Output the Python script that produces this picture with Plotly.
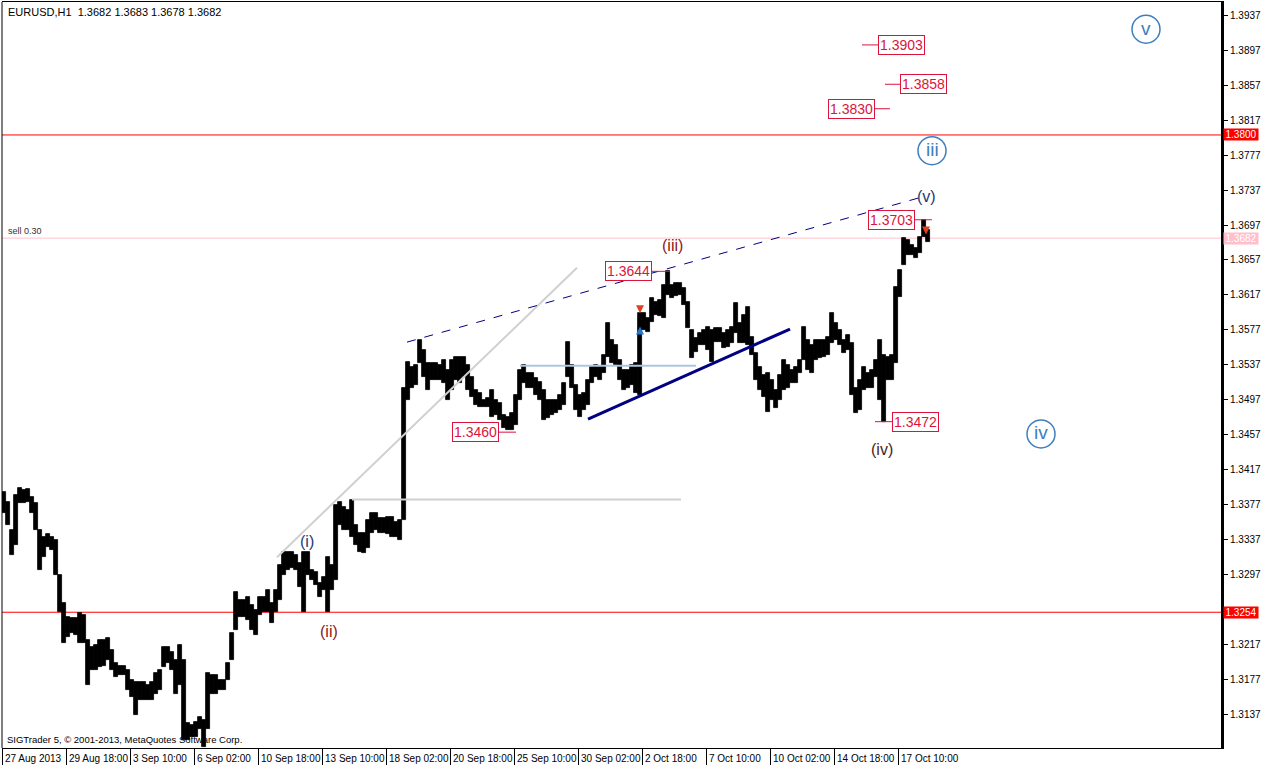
import plotly.graph_objects as go

# ---------------- data (EURUSD H1, aggregated per 4 hourly bars) ----------------
hi = [1.3391,1.3380,1.3348,1.3388,1.3396,1.3394,1.3395,1.3386,1.3379,1.3348,
      1.3340,1.3343,1.3340,1.3337,1.3297,1.3265,1.3249,1.3247,1.3247,1.3253,
      1.3251,1.3222,1.3214,1.3216,1.3222,1.3222,1.3224,1.3211,1.3196,1.3193,
      1.3193,1.3188,1.3177,1.3174,1.3174,1.3174,1.3171,1.3174,1.3184,1.3188,
      1.3214,1.3214,1.3208,1.3199,1.3216,1.3199,1.3127,1.3125,1.3128,1.3134,
      1.3131,1.3184,1.3182,1.3182,1.3177,1.3177,1.3196,1.3230,1.3277,1.3268,
      1.3268,1.3271,1.3262,1.3257,1.3271,1.3271,1.3280,1.3265,1.3280,1.3308,
      1.3323,1.3323,1.3323,1.3319,1.3310,1.3323,1.3323,1.3302,1.3300,1.3287,
      1.3294,1.3317,1.3308,1.3377,1.3380,1.3374,1.3371,1.3382,1.3354,1.3345,
      1.3345,1.3360,1.3368,1.3368,1.3362,1.3362,1.3363,1.3363,1.3357,1.3360,
      1.3511,1.3540,1.3535,1.3537,1.3565,1.3554,1.3539,1.3539,1.3539,1.3537,
      1.3543,1.3531,1.3543,1.3546,1.3546,1.3546,1.3537,1.3523,1.3508,1.3505,
      1.3497,1.3499,1.3508,1.3497,1.3493,1.3480,1.3477,1.3482,1.3502,1.3531,
      1.3537,1.3528,1.3528,1.3522,1.3517,1.3508,1.3497,1.3497,1.3497,1.3502,
      1.3516,1.3563,1.3537,1.3514,1.3502,1.3505,1.3520,1.3535,1.3537,1.3534,
      1.3548,1.3585,1.3565,1.3560,1.3543,1.3531,1.3531,1.3537,1.3539,1.3596,
      1.3596,1.3591,1.3614,1.3609,1.3611,1.3628,1.3644,1.3628,1.3631,1.3631,
      1.3625,1.3609,1.3577,1.3568,1.3573,1.3577,1.3580,1.3577,1.3579,1.3579,
      1.3573,1.3577,1.3580,1.3608,1.3585,1.3594,1.3603,1.3569,1.3551,1.3535,
      1.3525,1.3528,1.3520,1.3508,1.3525,1.3543,1.3537,1.3531,1.3534,1.3543,
      1.3580,1.3565,1.3560,1.3565,1.3565,1.3565,1.3569,1.3596,1.3585,1.3577,
      1.3565,1.3571,1.3562,1.3511,1.3520,1.3535,1.3528,1.3531,1.3543,1.3565,
      1.3548,1.3546,1.3548,1.3626,1.3645,1.3682,1.3680,1.3674,1.3671,1.3683,
      1.3703,1.3691]

lo = [1.3368,1.3354,1.3319,1.3331,1.3379,1.3379,1.3380,1.3368,1.3348,1.3302,
      1.3317,1.3329,1.3325,1.3297,1.3254,1.3219,1.3226,1.3230,1.3228,1.3219,
      1.3219,1.3171,1.3188,1.3188,1.3191,1.3193,1.3199,1.3188,1.3180,1.3182,
      1.3182,1.3165,1.3157,1.3136,1.3154,1.3154,1.3154,1.3154,1.3161,1.3165,
      1.3191,1.3196,1.3188,1.3161,1.3171,1.3108,1.3108,1.3111,1.3111,1.3120,
      1.3100,1.3120,1.3161,1.3161,1.3165,1.3165,1.3177,1.3199,1.3234,1.3249,
      1.3249,1.3245,1.3234,1.3228,1.3251,1.3254,1.3254,1.3242,1.3254,1.3268,
      1.3297,1.3302,1.3305,1.3302,1.3283,1.3254,1.3297,1.3291,1.3285,1.3271,
      1.3280,1.3254,1.3280,1.3291,1.3354,1.3348,1.3348,1.3340,1.3331,1.3323,
      1.3322,1.3328,1.3345,1.3348,1.3345,1.3345,1.3343,1.3340,1.3340,1.3337,
      1.3360,1.3497,1.3511,1.3514,1.3539,1.3523,1.3508,1.3520,1.3520,1.3520,
      1.3516,1.3497,1.3508,1.3520,1.3516,1.3523,1.3508,1.3500,1.3491,1.3489,
      1.3489,1.3489,1.3477,1.3480,1.3474,1.3465,1.3462,1.3462,1.3468,1.3497,
      1.3516,1.3511,1.3511,1.3502,1.3497,1.3474,1.3476,1.3480,1.3482,1.3485,
      1.3491,1.3523,1.3511,1.3485,1.3477,1.3485,1.3491,1.3516,1.3523,1.3520,
      1.3528,1.3546,1.3539,1.3537,1.3520,1.3508,1.3510,1.3514,1.3505,1.3502,
      1.3577,1.3575,1.3586,1.3594,1.3593,1.3591,1.3617,1.3614,1.3616,1.3617,
      1.3605,1.3579,1.3545,1.3552,1.3560,1.3560,1.3554,1.3540,1.3563,1.3563,
      1.3556,1.3557,1.3562,1.3573,1.3562,1.3562,1.3560,1.3548,1.3520,1.3508,
      1.3500,1.3483,1.3497,1.3488,1.3497,1.3508,1.3510,1.3516,1.3516,1.3528,
      1.3543,1.3531,1.3528,1.3543,1.3545,1.3546,1.3548,1.3562,1.3565,1.3560,
      1.3551,1.3554,1.3502,1.3482,1.3485,1.3508,1.3511,1.3511,1.3523,1.3497,
      1.3472,1.3520,1.3520,1.3539,1.3615,1.3651,1.3663,1.3663,1.3659,1.3665,
      1.3683,1.3678]

HOURS_PER_GROUP = 4
BARS_PER_LABEL = 64

x_labels = ["27 Aug 2013", "29 Aug 18:00", "3 Sep 10:00", "6 Sep 02:00", "10 Sep 18:00",
            "13 Sep 10:00", "18 Sep 02:00", "20 Sep 18:00", "25 Sep 10:00", "30 Sep 02:00",
            "2 Oct 18:00", "7 Oct 10:00", "10 Oct 02:00", "14 Oct 18:00", "17 Oct 10:00"]

y_ticks = [1.3937, 1.3897, 1.3857, 1.3817, 1.3777, 1.3737, 1.3697, 1.3657, 1.3617,
           1.3577, 1.3537, 1.3497, 1.3457, 1.3417, 1.3377, 1.3337, 1.3297, 1.3257,
           1.3217, 1.3177, 1.3137]
y_ticks_hidden = [1.3257]  # covered by the 1.3254 level tag

title_text = "EURUSD,H1  1.3682 1.3683 1.3678 1.3682"
copyright_text = "SIGTrader 5, © 2001-2013, MetaQuotes Software Corp."

# horizontal levels
level_red = [1.3800, 1.3254]
level_bid = 1.3682

# price markers: (value, line start bar, line end bar, box side)
marker_prices = [1.3903, 1.3858, 1.3830, 1.3703, 1.3644, 1.3460, 1.3472]
marker_line_x0 = [860, 883, 873, 913, 650, 497, 873]
marker_line_x1 = [876, 898, 888, 930, 668, 514, 890]
marker_box_side = ["right", "right", "left", "left", "left", "left", "right"]

# wave labels (bar index, price)
wave_text = ["(i)", "(ii)", "(iii)", "(iv)", "(v)"]
wave_x = [305, 327, 670, 880, 924]
wave_y = [1.3335, 1.3232, 1.3673, 1.3440, 1.3730]
wave_color = ["#1e3a78", "#8b1a1a", "#8b1a1a", "#4a1c1c", "#1e3a78"]

circle_text = ["v", "iii", "iv"]
circle_x = [1144, 930, 1039]
circle_y = [1.3921, 1.3782, 1.3458]

# drawn trend lines (bar index, price)
dash_line_x = [405, 920]
dash_line_y = [1.3563, 1.3729]
gray_diag_x = [275, 575]
gray_diag_y = [1.3317, 1.3648]
gray_hline_x = [350, 679]
gray_hline_y = [1.3383, 1.3383]
blue_hline_x = [518, 694]
blue_hline_y = [1.3536, 1.3536]
navy_line_x = [586, 788]
navy_line_y = [1.3475, 1.3578]

arrow_x = [638, 638, 924]
arrow_y = [1.3596, 1.3581, 1.3686]
arrow_sym = ["arrow-down", "arrow-up", "arrow-down"]
arrow_col = ["#e04020", "#1e78d0", "#e04020"]

Y_MIN, Y_MAX = 1.30987, 1.39521
X_MAX = 1219

FONT = "Liberation Sans"

# ---------------- figure ----------------
centers = [HOURS_PER_GROUP * g + HOURS_PER_GROUP / 2 for g in range(len(hi))]
fig = go.Figure()
fig.add_trace(go.Bar(x=centers, y=[h - l for h, l in zip(hi, lo)], base=lo,
                     width=HOURS_PER_GROUP, marker=dict(color="black", line=dict(width=0.8, color="black")),
                     hoverinfo="skip", showlegend=False))

def seg(xs, ys, color, width, dash="solid"):
    fig.add_trace(go.Scatter(x=xs, y=ys, mode="lines", line=dict(color=color, width=width, dash=dash),
                             hoverinfo="skip", showlegend=False))

seg(gray_diag_x, gray_diag_y, "#d0d0d0", 2)
seg(gray_hline_x, gray_hline_y, "#d0d0d0", 2)
seg(blue_hline_x, blue_hline_y, "#b0c4de", 2)
seg(navy_line_x, navy_line_y, "#000080", 3)
seg(dash_line_x, dash_line_y, "#000080", 1, "dash")

fig.add_trace(go.Scatter(x=arrow_x, y=arrow_y, mode="markers",
                         marker=dict(symbol=arrow_sym, color=arrow_col, size=8),
                         hoverinfo="skip", showlegend=False))

shapes = []
for lv in level_red:
    shapes.append(dict(type="line", xref="paper", yref="y", x0=0, x1=1, y0=lv, y1=lv,
                       line=dict(color="#ff0000", width=1), layer="below"))
shapes.append(dict(type="line", xref="paper", yref="y", x0=0, x1=1, y0=level_bid, y1=level_bid,
                   line=dict(color="#ffc0cb", width=1), layer="below"))
# left border
shapes.append(dict(type="line", xref="paper", yref="paper", x0=0, x1=0, y0=0, y1=1,
                   line=dict(color="black", width=1)))

annotations = []
for p, a, b, side in zip(marker_prices, marker_line_x0, marker_line_x1, marker_box_side):
    shapes.append(dict(type="line", xref="x", yref="y", x0=a, x1=b, y0=p, y1=p,
                       line=dict(color="#dc143c", width=1)))
    if side == "right":
        ax, anc = b, "left"
    else:
        ax, anc = a, "right"
    annotations.append(dict(x=ax, y=p, xref="x", yref="y", text=f"{p:.4f}", showarrow=False,
                            xanchor=anc, yanchor="middle", font=dict(family=FONT, size=14, color="#dc143c"),
                            bgcolor="white", bordercolor="#dc143c", borderwidth=1, borderpad=1))

for t, x, y, c in zip(wave_text, wave_x, wave_y, wave_color):
    annotations.append(dict(x=x, y=y, xref="x", yref="y", text=t, showarrow=False,
                            font=dict(family=FONT, size=16, color=c)))

for t, x, y in zip(circle_text, circle_x, circle_y):
    shapes.append(dict(type="circle", xref="x", yref="y", xsizemode="pixel", ysizemode="pixel",
                       xanchor=x, yanchor=y, x0=-14, x1=14, y0=-14, y1=14,
                       line=dict(color="#3d7ebf", width=1.5)))
    annotations.append(dict(x=x, y=y, xref="x", yref="y", text=t, showarrow=False, yshift=1,
                            font=dict(family=FONT, size=19, color="#3d7ebf")))

# right side price tags
for lv, bg, fg in [(level_red[0], "#ff0000", "white"), (level_red[1], "#ff0000", "white"),
                   (level_bid, "#ffc0cb", "white")]:
    annotations.append(dict(x=1, y=lv, xref="paper", yref="y", text=f"{lv:.4f}", showarrow=False,
                            xanchor="left", yanchor="middle", xshift=2,
                            font=dict(family=FONT, size=10, color=fg), bgcolor=bg, borderpad=0,
                            width=34, align="center"))

# x-axis labels, left aligned at ticks
tick_pos = [BARS_PER_LABEL * k for k in range(len(x_labels))]
for pos, lab in zip(tick_pos, x_labels):
    annotations.append(dict(x=pos, y=0, xref="x", yref="paper", text=lab, showarrow=False,
                            xanchor="left", yanchor="top", xshift=1, yshift=-3,
                            font=dict(family=FONT, size=10, color="black")))

annotations.append(dict(x=0, y=1, xref="paper", yref="paper", text=title_text, showarrow=False,
                        xanchor="left", yanchor="top", xshift=4, yshift=-2,
                        font=dict(family=FONT, size=11, color="black")))
annotations.append(dict(x=0, y=level_bid, xref="paper", yref="y", text="sell 0.30", showarrow=False,
                        xanchor="left", yanchor="bottom", xshift=4,
                        font=dict(family=FONT, size=9, color="#333333")))
annotations.append(dict(x=0, y=0, xref="paper", yref="paper", text=copyright_text, showarrow=False,
                        xanchor="left", yanchor="bottom", xshift=3, yshift=1,
                        font=dict(family=FONT, size=9.5, color="black")))

fig.update_layout(
    width=1268, height=772, autosize=False,
    margin=dict(l=2, r=47, t=2, b=24),
    paper_bgcolor="white", plot_bgcolor="white",
    shapes=shapes, annotations=annotations,
    xaxis=dict(range=[0, X_MAX], showgrid=False, zeroline=False,
               tickvals=tick_pos, ticktext=[""] * len(tick_pos),
               ticks="outside", ticklen=16, tickcolor="black", tickwidth=1,
               showline=True, linecolor="black", linewidth=1, mirror=True),
    yaxis=dict(range=[Y_MIN, Y_MAX], side="right", showgrid=False, zeroline=False,
               tickvals=y_ticks,
               ticktext=["" if v in y_ticks_hidden else f"{v:.4f}" for v in y_ticks],
               ticks="outside", ticklen=4, tickcolor="black",
               tickfont=dict(family=FONT, size=10, color="black"),
               showline=True, linecolor="black", linewidth=3),
    bargap=0,
)

fig.write_html("out.html", config={"displayModeBar": False},
               post_script="document.body.style.margin='0';document.body.style.overflow='hidden';")
